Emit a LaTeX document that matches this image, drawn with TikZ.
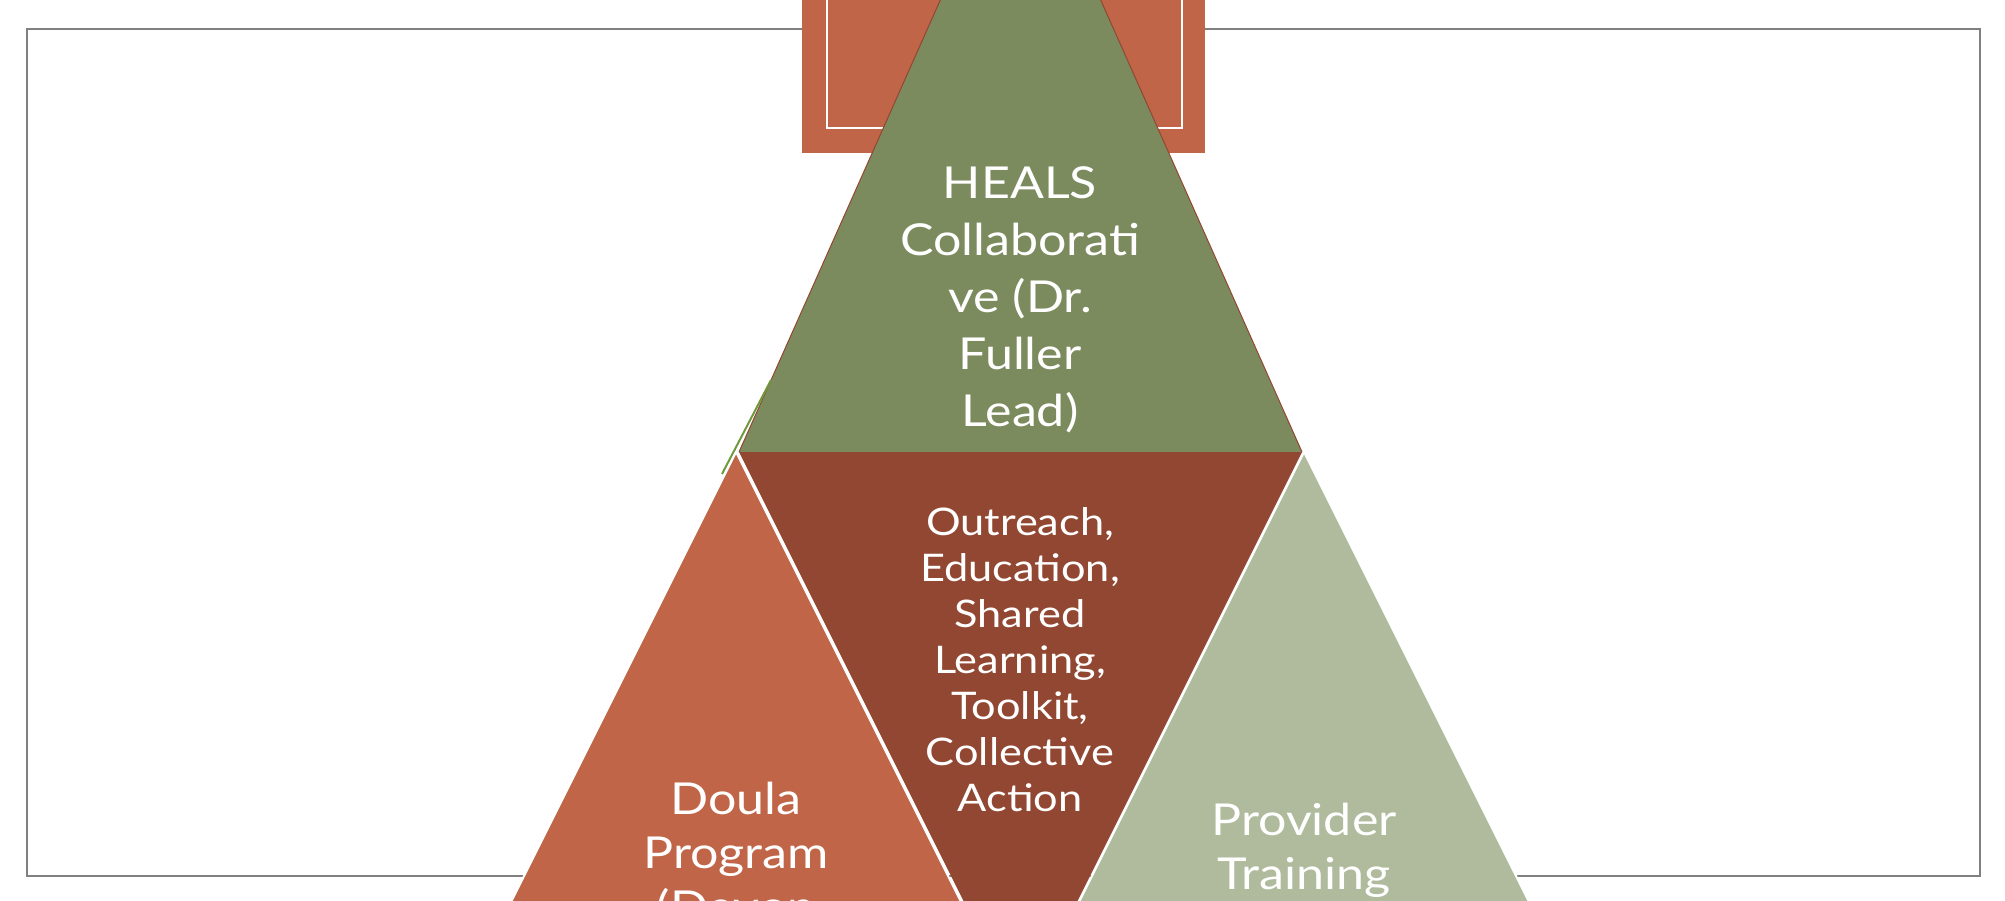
\documentclass[tikz,border=0pt]{standalone}
\usepackage{fontspec}
\setmainfont[FakeStretch=1.14]{Lato}
\usetikzlibrary{positioning}
\definecolor{PyrGreen}{HTML}{7C8B5E}
\definecolor{PyrOrange}{HTML}{C16548}
\definecolor{PyrBrown}{HTML}{914731}
\definecolor{PyrSage}{HTML}{AFBB9C}
\definecolor{FrameGray}{HTML}{808080}
\definecolor{EdgeGreen}{HTML}{6E9A3E}

\begin{document}
\begin{tikzpicture}[x=1pt, y=-1pt,
    piece/.style={draw=white, line width=2pt, line join=round},
    toptext/.style={text=white, align=center, font=\fontsize{44}{57}\selectfont},
    midtext/.style={text=white, align=center, font=\fontsize{38}{46}\selectfont},
    lowtext/.style={text=white, align=center, font=\fontsize{44}{54}\selectfont}]
                \useasboundingbox (0,0) rectangle (2005,901);
                \clip (0,0) rectangle (2005,901);

                % Slide frame
                \draw[FrameGray, line width=2.5pt] (27,29) rectangle (1980,876);

                % Square behind the apex
                \fill[PyrOrange] (802,-260) rectangle (1205,153);
                \draw[white, line width=1.5pt] (827,-240) rectangle (1182,128);

                % Top segment
                \fill[PyrGreen] (739,452) -- (1020.5,-180) -- (1302,452) -- cycle;
                \draw[PyrBrown, line width=1pt] (739,452) -- (1020.5,-180) -- (1302,452);
                \draw[EdgeGreen, line width=2pt] (722,474) -- (771,380);

                % Middle (inverted) segment
                \fill[PyrBrown] (739,452) -- (1302,452) -- (1020.5,1015) -- cycle;

                % Lower segments
                \filldraw[piece, fill=PyrOrange] (736,452) -- (412,1100) -- (1060,1100) -- cycle;
                \filldraw[piece, fill=PyrSage] (1304,452) -- (980,1100) -- (1628,1100) -- cycle;

                % Labels
                \node[toptext] (heals) at (1020,300) {HEALS\\Collaborati\\ve (Dr.\\Fuller\\Lead)};
                \node[midtext] (outreach) at (1020,660) {Outreach,\\Education,\\Shared\\Learning,\\Toolkit,\\Collective\\Action};
                \node[lowtext] (doula) at (736,856) {Doula\\Program\\(Devon};
                \node[lowtext] (provider) at (1304,850) {Provider\\Training};
            \end{tikzpicture}
\end{document}
